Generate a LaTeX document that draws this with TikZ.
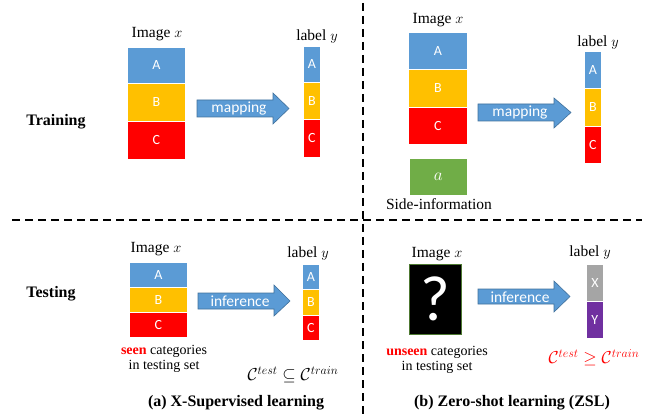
\documentclass[tikz,border=0pt]{standalone}
\usepackage{fontspec}
\setmainfont{Liberation Serif}
\newfontfamily\calibrifont{Carlito}
\usetikzlibrary{positioning}
\definecolor{cblue}{HTML}{5B9BD5}
\definecolor{cblued}{HTML}{41719C}
\definecolor{corange}{HTML}{FFC000}
\definecolor{cred}{HTML}{FF0000}
\definecolor{cgreen}{HTML}{70AD47}
\definecolor{cgray}{HTML}{A5A5A5}
\definecolor{cpurple}{HTML}{7030A0}
\tikzset{
  cell/.style={draw=white, line width=0.8pt, inner sep=0pt, anchor=north west, text=white, font=\calibrifont\fontsize{14}{14}\selectfont},
  lbl/.style={font=\fontsize{15.5}{15.5}\selectfont, inner sep=0pt},
  head/.style={font=\bfseries\fontsize{16}{16}\selectfont, inner sep=0pt},
  note/.style={font=\fontsize{14}{15.5}\selectfont, inner sep=0pt, align=center},
  arrtxt/.style={text=white, font=\calibrifont\fontsize{15.5}{15.5}\selectfont, inner sep=0pt},
  blockarrow/.style={fill=cblue, draw=cblued, line width=0.6pt},
  sep/.style={dashed, dash pattern=on 8pt off 5pt, line width=1.8pt},
}
\begin{document}
\begin{tikzpicture}[x=1pt,y=-1pt]
\useasboundingbox (0,0) rectangle (656,414);
% separators
\coordinate (hl) at (12,220);
\coordinate (hr) at (642,220);
\coordinate (vt) at (363,3);
\coordinate (vb) at (363,414);
\draw[sep] (hl) -- (hr);
\draw[sep] (vt) -- (vb);

% ===== Panel (a) training =====
\node[head] (train) at (56,122) {Training};
\node[lbl] (ix1) at (157,34) {Image $x$};
\node[cell, fill=cblue, minimum width=58pt, minimum height=36pt] (a1) at (127,47) {A};
\node[cell, fill=corange, minimum width=58pt, minimum height=38pt] (b1) at (127,83) {B};
\node[cell, fill=cred, minimum width=58pt, minimum height=38pt] (c1) at (127,121) {C};
\fill[blockarrow] (197,100) -- (273,100) -- (273,93) -- (289,108.5) -- (273,124) -- (273,117) -- (197,117) -- cycle;
\node[arrtxt] (m1) at (239,109) {mapping};
\node[lbl] (ly1) at (317,37) {label $y$};
\node[cell, fill=cblue, minimum width=17pt, minimum height=36pt] (sa1) at (303,46) {A};
\node[cell, fill=corange, minimum width=17pt, minimum height=37pt] (sb1) at (303,82) {B};
\node[cell, fill=cred, minimum width=17pt, minimum height=38pt] (sc1) at (303,119) {C};

% ===== Panel (b) training =====
\node[lbl] (ix2) at (438,20) {Image $x$};
\node[cell, fill=cblue, minimum width=59pt, minimum height=37pt] (a2) at (408,32) {A};
\node[cell, fill=corange, minimum width=59pt, minimum height=38pt] (b2) at (408,69) {B};
\node[cell, fill=cred, minimum width=59pt, minimum height=37pt] (c2) at (408,107) {C};
\node[cell, fill=cgreen, minimum width=58pt, minimum height=37pt, font=\fontsize{16}{16}\selectfont] (g2) at (409,158) {$a$};
\node[lbl] (side) at (439,204) {Side-information};
\fill[blockarrow] (478,104) -- (554,104) -- (554,98) -- (571,112.5) -- (554,128) -- (554,121) -- (478,121) -- cycle;
\node[arrtxt] (m2) at (520,113) {mapping};
\node[lbl] (ly2) at (598,43) {label $y$};
\node[cell, fill=cblue, minimum width=17pt, minimum height=37pt] (sa2) at (584,51) {A};
\node[cell, fill=corange, minimum width=17pt, minimum height=38pt] (sb2) at (584,88) {B};
\node[cell, fill=cred, minimum width=17pt, minimum height=37pt] (sc2) at (584,126) {C};

% ===== Panel (a) testing =====
\node[head] (test) at (51,294) {Testing};
\node[lbl] (ix3) at (156,249) {Image $x$};
\node[cell, fill=cblue, minimum width=58pt, minimum height=25pt] (a3) at (129,262) {A};
\node[cell, fill=corange, minimum width=58pt, minimum height=25pt] (b3) at (129,287) {B};
\node[cell, fill=cred, minimum width=58pt, minimum height=25pt] (c3) at (129,312) {C};
\node[note] (seen) at (164,359) {{\bfseries\color{cred}seen} categories\\in testing set};
\fill[blockarrow] (198,293) -- (274,293) -- (274,285) -- (290,301) -- (274,316) -- (274,309) -- (198,309) -- cycle;
\node[arrtxt] (i1) at (240,301) {inference};
\node[lbl] (ly3) at (308,254) {label $y$};
\node[cell, fill=cblue, minimum width=17pt, minimum height=25pt] (sa3) at (302,264) {A};
\node[cell, fill=corange, minimum width=17pt, minimum height=26pt] (sb3) at (302,289) {B};
\node[cell, fill=cred, minimum width=17pt, minimum height=25pt] (sc3) at (302,315) {C};
\node[lbl, font=\fontsize{17}{17}\selectfont] (eq1) at (293,375) {$\mathcal{C}^{test}\subseteq\mathcal{C}^{train}$};
\node[head] (ta) at (236,403) {(a) X-Supervised learning};

% ===== Panel (b) testing =====
\node[lbl] (ix4) at (437,254) {Image $x$};
\node[draw=cgreen!70!black, fill=black, line width=0.6pt, minimum width=52pt, minimum height=70pt, inner sep=0pt, anchor=north west, text=white, font=\calibrifont\fontsize{64}{64}\selectfont] (q4) at (409,264) {?};
\node[note] (unseen) at (437,360) {{\bfseries\color{cred}unseen} categories\\in testing set};
\fill[blockarrow] (478,289) -- (554,289) -- (554,281) -- (570,296.5) -- (554,312) -- (554,304) -- (478,304) -- cycle;
\node[arrtxt] (i2) at (520,297) {inference};
\node[lbl] (ly4) at (590,253) {label $y$};
\node[cell, fill=cgray, minimum width=17pt, minimum height=37pt] (sx4) at (586,264) {X};
\node[cell, fill=cpurple, minimum width=17pt, minimum height=37pt] (sy4) at (586,301) {Y};
\node[lbl, text=cred, font=\fontsize{16.5}{16.5}\selectfont] (eq2) at (594,358) {$\mathcal{C}^{test}\geq\mathcal{C}^{train}$};
\node[head] (tb) at (512,403) {(b) Zero-shot learning (ZSL)};
\end{tikzpicture}
\end{document}
